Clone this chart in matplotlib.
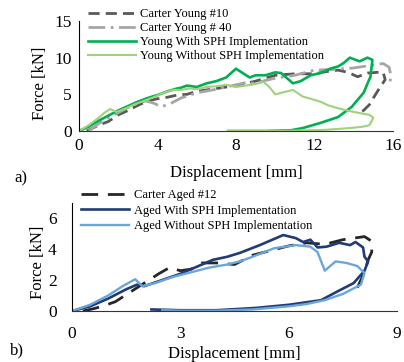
import matplotlib
matplotlib.use("Agg")
import matplotlib.pyplot as plt

plt.rcParams["font.family"] = ["Liberation Serif", "DejaVu Serif"]

# (a) young specimens: displacement [mm] / force [kN]
carter10_x = [0.4, 1.0, 1.5, 2.0, 2.5, 3.0, 3.5, 4.0, 4.5, 5.0, 5.5, 6.0, 7.0, 8.0, 9.0, 10.0,
              11.0, 12.0, 12.6, 13.2, 13.7, 14.2, 14.7, 15.2, 15.5, 15.6, 15.3, 15.0, 14.8, 14.5, 14.2]
carter10_y = [0.0, 0.8, 1.3, 2.2, 2.8, 3.5, 4.1, 4.4, 4.6, 4.9, 5.0, 5.4, 5.8, 6.2, 6.8, 7.6,
              7.8, 7.8, 8.1, 8.3, 8.0, 7.4, 7.9, 8.0, 8.0, 7.0, 5.8, 4.5, 3.6, 2.8, 2.4]
carter40_x = [0.5, 1.0, 1.5, 2.0, 2.5, 3.0, 3.4, 3.8, 4.2, 4.7, 5.2, 6.0, 7.0, 8.0, 8.5, 9.0,
              9.5, 10.0, 11.0, 12.0, 13.0, 14.0, 14.5, 15.0, 15.5, 15.8, 15.9, 15.8]
carter40_y = [0.0, 1.0, 1.8, 2.5, 3.2, 3.8, 4.1, 3.8, 3.3, 3.8, 4.5, 5.2, 5.7, 6.3, 6.6, 6.5,
              6.9, 7.2, 7.6, 8.3, 8.4, 8.6, 8.8, 9.0, 9.2, 8.7, 7.5, 6.0]
young_sph_x = [0.0, 0.5, 1.0, 1.5, 2.0, 2.5, 3.0, 3.5, 4.0, 4.5, 5.0, 5.2, 5.5, 6.0, 6.5, 7.0,
               7.5, 8.0, 8.4, 8.7, 9.0, 9.5, 10.0, 10.3, 10.6, 10.9, 11.3, 11.8, 12.3, 12.8,
               13.2, 13.5, 13.8, 14.3, 14.7, 14.95, 14.85, 14.5, 13.9, 13.2, 12.3, 11.4, 10.8,
               9.5, 8.5, 7.6]
young_sph_y = [0.0, 0.6, 1.4, 2.1, 2.8, 3.4, 4.0, 4.5, 4.9, 5.4, 5.8, 5.9, 6.2, 6.0, 6.5, 6.8,
               7.3, 8.5, 7.8, 7.3, 7.6, 7.6, 8.0, 7.9, 7.2, 6.5, 6.8, 7.6, 7.9, 8.5,
               8.8, 9.3, 10.0, 9.5, 10.0, 9.7, 7.4, 5.2, 3.3, 1.9, 1.1, 0.4, 0.1,
               0.0, 0.0, 0.0]
young_nosph_x = [0.0, 0.5, 1.0, 1.3, 1.6, 1.9, 2.3, 2.8, 3.3, 3.8, 4.3, 4.8, 5.2, 5.6, 6.0, 6.5,
                 7.0, 7.5, 8.0, 8.5, 9.0, 9.4, 9.7, 10.0, 10.3, 10.9, 11.4, 11.8, 12.3, 12.7,
                 13.2, 14.0, 14.8, 15.0, 14.8, 14.5, 13.8, 12.5, 11.0, 9.5, 7.6]
young_nosph_y = [0.0, 0.8, 1.8, 2.5, 3.0, 2.6, 3.0, 3.6, 4.1, 4.6, 5.2, 5.6, 5.6, 5.8, 5.7, 6.0,
                 6.1, 6.3, 6.0, 6.2, 6.4, 6.7, 6.0, 5.0, 5.2, 5.6, 4.7, 4.4, 4.0, 3.5,
                 3.1, 2.6, 2.2, 1.8, 0.8, 0.6, 0.4, 0.15, 0.05, 0.0, 0.0]

# (b) aged specimens
carter12_x = [0.3, 0.6, 0.9, 1.2, 1.6, 2.0, 2.4, 2.7, 3.0, 3.3, 3.6, 4.0, 4.5, 5.0, 5.5, 6.0,
              6.5, 7.0, 7.5, 7.8, 8.1, 8.3, 8.3, 8.2, 8.1, 7.9]
carter12_y = [0.0, 0.15, 0.35, 0.6, 1.2, 1.8, 2.4, 2.8, 2.6, 2.7, 3.1, 3.1, 3.0, 3.6, 3.9, 4.2,
              4.4, 4.3, 4.6, 4.7, 4.8, 4.5, 3.8, 3.3, 2.5, 1.5]
aged_sph_x = [0.0, 0.5, 1.0, 1.5, 1.8, 2.0, 2.5, 3.0, 3.5, 3.9, 4.3, 4.65, 5.2, 5.85, 6.2,
              6.4, 6.6, 6.8, 7.05, 7.4, 7.7, 7.85, 8.06, 8.1, 8.2, 8.1, 7.8, 7.3, 6.9, 6.0,
              5.1, 4.0, 3.0, 2.2]
aged_sph_y = [0.0, 0.3, 0.8, 1.4, 1.7, 1.6, 2.0, 2.4, 2.9, 3.3, 3.5, 3.75, 4.25, 4.9, 4.7,
              4.45, 4.6, 4.1, 4.15, 4.4, 4.25, 4.45, 4.1, 3.5, 3.2, 2.6, 1.8, 1.2, 0.7, 0.4,
              0.2, 0.05, 0.05, 0.1]
aged_nosph_x = [0.0, 0.5, 1.0, 1.4, 1.75, 1.95, 2.3, 2.8, 3.3, 3.8, 4.3, 4.65, 5.0, 5.6, 6.2,
                6.6, 6.8, 7.0, 7.3, 7.6, 7.9, 8.1, 8.0, 7.5, 7.0, 6.5, 6.0, 5.0, 4.0, 3.0, 2.5]
aged_nosph_y = [0.0, 0.4, 1.0, 1.6, 2.05, 1.6, 1.8, 2.2, 2.5, 2.8, 3.0, 3.2, 3.5, 4.05, 4.25,
                4.15, 3.8, 2.6, 3.2, 3.1, 2.9, 2.45, 1.7, 1.1, 0.7, 0.45, 0.3, 0.1, 0.02, 0.02, 0.05]

W, H = 404, 362
fig = plt.figure(figsize=(W / 100, H / 100), dpi=100)


def style_axes(ax, xlim, xticks, ylim, yticks, pad):
    ax.set_xlim(*xlim)
    ax.set_ylim(*ylim)
    ax.set_xticks(xticks)
    ax.set_yticks(yticks)
    for s in ("top", "right"):
        ax.spines[s].set_visible(False)
    ax.spines["left"].set_color("black")
    ax.spines["bottom"].set_color("#333333")
    ax.tick_params(length=0, labelsize=12.5, pad=pad)
    ax.set_xlabel("Displacement [mm]", fontsize=12)
    ax.set_ylabel("Force [kN]", fontsize=12)


# ---- panel a
ax1 = fig.add_axes([79 / W, 1 - 131 / H, 314 / W, 110 / H])
ax1.plot(carter10_x, carter10_y, color="#595959", lw=2, dashes=(4, 2.2), label="Carter Young #10")
ax1.plot(carter40_x, carter40_y, color="#a6a6a6", lw=2, dashes=(6, 2, 1, 2), label="Carter Young # 40")
ax1.plot(young_sph_x, young_sph_y, color="#00b050", lw=1.9, label="Young With SPH Implementation")
ax1.plot(young_nosph_x, young_nosph_y, color="#9fd27c", lw=1.5, label="Young Without SPH Implementation")
style_axes(ax1, (0, 16), [0, 4, 8, 12, 16], (0, 15), [0, 5, 10, 15], 5)
ax1.xaxis.set_label_coords(0.5, -0.31)
ax1.yaxis.set_label_coords(-0.1, 0.43)
ax1.legend(loc="upper left", bbox_to_anchor=(88 / W, 1 - 8 / H), bbox_transform=fig.transFigure,
           frameon=False, fontsize=9, handlelength=3.8, handletextpad=0.4,
           labelspacing=0.17, borderpad=0, borderaxespad=0)
fig.text(14 / W, 1 - 178 / H, "a)", fontsize=12, va="center")

# ---- panel b
ax2 = fig.add_axes([72 / W, 1 - 311 / H, 325 / W, 108.5 / H])
ax2.plot(carter12_x, carter12_y, color="#262626", lw=2, dashes=(6, 3.5), label="Carter Aged #12")
ax2.plot(aged_sph_x, aged_sph_y, color="#203b78", lw=1.9, label="Aged With SPH Implementation")
ax2.plot(aged_nosph_x, aged_nosph_y, color="#6aa6dc", lw=1.7, label="Aged Without SPH Implementation")
style_axes(ax2, (0, 9), [0, 3, 6, 9], (0, 7), [0, 2, 4, 6], 11)
ax2.xaxis.set_label_coords(0.5, -0.32)
ax2.yaxis.set_label_coords(-0.08, 0.45)
ax2.legend(loc="upper left", bbox_to_anchor=(81 / W, 1 - 189 / H), bbox_transform=fig.transFigure,
           frameon=False, fontsize=9, handlelength=3.8, handletextpad=0.4,
           labelspacing=0.28, borderpad=0, borderaxespad=0)
fig.text(10 / W, 1 - 350 / H, "b)", fontsize=12, va="center")

fig.savefig("out.png", dpi=100)
